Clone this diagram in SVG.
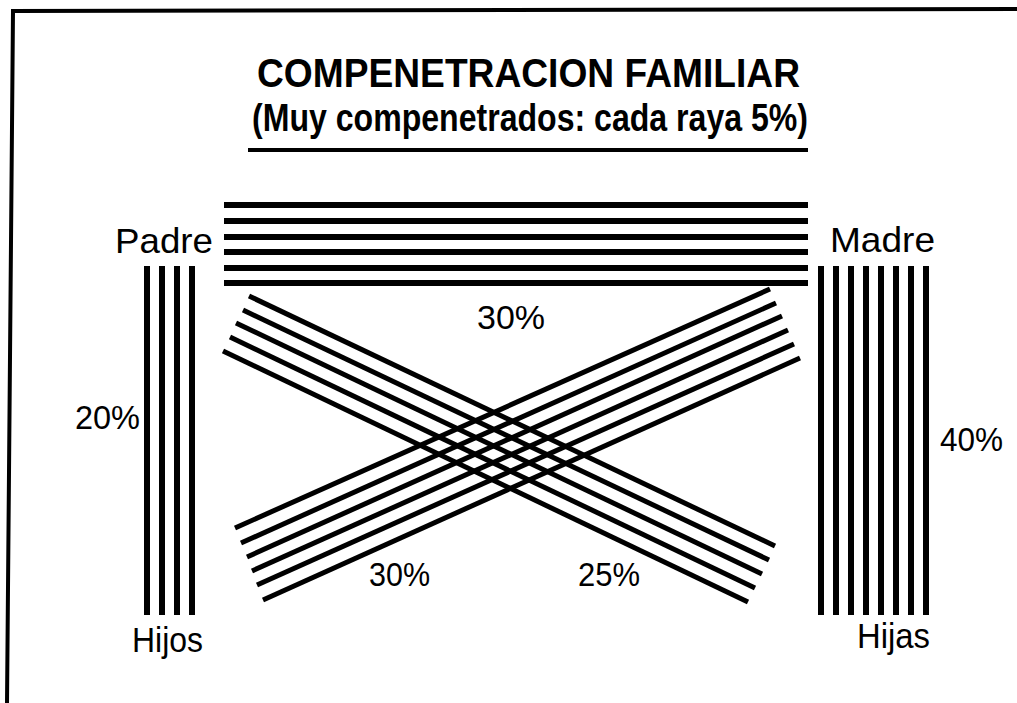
<svg xmlns="http://www.w3.org/2000/svg" width="1017" height="703" viewBox="0 0 1017 703">
<style>
.t{font-family:"Liberation Sans",Arial,sans-serif;fill:#000}
.title{font-weight:bold;font-size:41px}
.sub{font-weight:bold;font-size:38px}
.lbl{font-size:35px}
.pct{font-size:33px}
.ln{stroke:#000;stroke-width:5;fill:none}
.hv{stroke-width:6}
</style>
<rect width="1017" height="703" fill="#fff"/>
<path d="M7,703 L13,11 L1017,9" fill="none" stroke="#000" stroke-width="4"/>
<g id="title">
<text class="t title" x="257" y="87" textLength="543" lengthAdjust="spacingAndGlyphs">COMPENETRACION FAMILIAR</text>
<text class="t sub" x="252" y="131" textLength="556" lengthAdjust="spacingAndGlyphs">(Muy compenetrados: cada raya 5%)</text>
<line x1="248" y1="150" x2="808" y2="150" stroke="#000" stroke-width="4"/>
</g>
<g id="padre"><text class="t lbl" x="115" y="253" textLength="98" lengthAdjust="spacingAndGlyphs">Padre</text></g>
<g id="madre"><text class="t lbl" x="830" y="252" textLength="105" lengthAdjust="spacingAndGlyphs">Madre</text></g>
<g id="hijos"><text class="t lbl" x="132" y="652" textLength="71" lengthAdjust="spacingAndGlyphs">Hijos</text></g>
<g id="hijas"><text class="t lbl" x="857" y="648" textLength="73" lengthAdjust="spacingAndGlyphs">Hijas</text></g>
<g id="connectors">
<g id="padre-madre" class="ln hv">
<line x1="224" y1="205" x2="808" y2="205"/>
<line x1="224" y1="221" x2="808" y2="221"/>
<line x1="224" y1="237" x2="808" y2="237"/>
<line x1="224" y1="252" x2="808" y2="252"/>
<line x1="224" y1="268" x2="808" y2="268"/>
<line x1="224" y1="283" x2="808" y2="283"/>
</g>
<text class="t pct" x="477" y="329" textLength="68" lengthAdjust="spacingAndGlyphs">30%</text>
<g id="padre-hijos" class="ln hv">
<line x1="147" y1="266" x2="147" y2="615"/>
<line x1="162" y1="266" x2="162" y2="615"/>
<line x1="177" y1="266" x2="177" y2="615"/>
<line x1="192" y1="266" x2="192" y2="615"/>
</g>
<text class="t pct" x="75" y="429" textLength="65" lengthAdjust="spacingAndGlyphs">20%</text>
<g id="madre-hijas" class="ln hv">
<line x1="821" y1="266" x2="821" y2="615"/>
<line x1="836" y1="266" x2="836" y2="615"/>
<line x1="851" y1="266" x2="851" y2="615"/>
<line x1="866" y1="266" x2="866" y2="615"/>
<line x1="881" y1="266" x2="881" y2="615"/>
<line x1="896" y1="266" x2="896" y2="615"/>
<line x1="911" y1="266" x2="911" y2="615"/>
<line x1="926" y1="266" x2="926" y2="615"/>
</g>
<text class="t pct" x="940" y="451" textLength="63" lengthAdjust="spacingAndGlyphs">40%</text>
<g id="padre-hijas" class="ln">
<line x1="249" y1="296" x2="775" y2="546"/>
<line x1="243" y1="310" x2="769" y2="560"/>
<line x1="236" y1="323" x2="762" y2="574"/>
<line x1="230" y1="337" x2="755" y2="588"/>
<line x1="223" y1="351" x2="748" y2="602"/>
</g>
<text class="t pct" x="578" y="586" textLength="62" lengthAdjust="spacingAndGlyphs">25%</text>
<g id="madre-hijos" class="ln">
<line x1="235" y1="528" x2="770" y2="289"/>
<line x1="241" y1="543" x2="776" y2="303"/>
<line x1="247" y1="557" x2="782" y2="316"/>
<line x1="252" y1="571" x2="788" y2="330"/>
<line x1="257" y1="585" x2="794" y2="344"/>
<line x1="263" y1="600" x2="800" y2="358"/>
</g>
<text class="t pct" x="369" y="586" textLength="61" lengthAdjust="spacingAndGlyphs">30%</text>
</g>
</svg>
